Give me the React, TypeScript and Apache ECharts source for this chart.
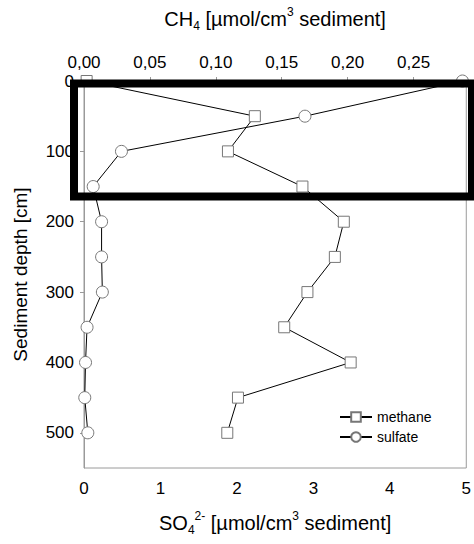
import React, { useEffect, useRef } from "react";
import * as echarts from "echarts";

// Sediment depth [cm]
const depths = [0, 50, 100, 150, 200, 250, 300, 350, 400, 450, 500];
// CH4 [µmol/cm3 sediment] (top axis)
const methane = [0.002, 0.1296, 0.1092, 0.1657, 0.1971, 0.1903, 0.1695, 0.1519, 0.2023, 0.1168, 0.1087];
// SO4 2- [µmol/cm3 sediment] (bottom axis)
const sulfate = [4.95, 2.89, 0.49, 0.12, 0.23, 0.23, 0.24, 0.04, 0.02, 0.01, 0.05];

const seriesNames = ["methane", "sulfate"];

const FONT = "'Liberation Sans', Arial, sans-serif";
const AXIS_GRAY = "#9a9a9a";

const titleRich = {
  t: { fontSize: 20, lineHeight: 26, verticalAlign: "middle", fontFamily: FONT, color: "#000" },
  sub: { fontSize: 12, verticalAlign: "bottom", fontFamily: FONT, color: "#000" },
  sup: { fontSize: 12, verticalAlign: "top", fontFamily: FONT, color: "#000" },
};

export default function App() {
  const ref = useRef<HTMLDivElement>(null);

  useEffect(() => {
    if (!ref.current) return;
    const chart = echarts.init(ref.current, undefined, { renderer: "svg" });

    const axisCommon = {
      type: "value" as const,
      axisLine: { show: true, lineStyle: { color: AXIS_GRAY, width: 1 } },
      axisTick: { show: true, inside: false, length: 4, lineStyle: { color: AXIS_GRAY } },
      splitLine: { show: false },
      axisLabel: { color: "#000", fontSize: 17, fontFamily: FONT },
    };

    chart.setOption({
      animation: false,
      backgroundColor: "#fff",
      textStyle: { fontFamily: FONT },
      grid: {
        left: 84,
        right: 5,
        top: 81,
        bottom: 76,
        show: true,
        borderColor: AXIS_GRAY,
        borderWidth: 1,
        backgroundColor: "transparent",
      },
      legend: {
        data: seriesNames,
        orient: "vertical",
        left: 339,
        top: 410,
        padding: 0,
        itemWidth: 32,
        itemHeight: 12,
        itemGap: 6,
        textStyle: { fontSize: 14, color: "#000", fontFamily: FONT },
      },
      xAxis: [
        {
          ...axisCommon,
          position: "bottom",
          min: 0,
          max: 5,
          interval: 1,
          axisLabel: { ...axisCommon.axisLabel, margin: 12 },
          name: "{t|SO}{sub|4}{sup|2-}{t| [µmol/cm}{sup|3}{t| sediment]}",
          nameLocation: "middle",
          nameGap: 42,
          nameTextStyle: { rich: titleRich },
        },
        {
          ...axisCommon,
          position: "top",
          min: 0,
          max: 0.29,
          interval: 0.05,
          axisLabel: {
            ...axisCommon.axisLabel,
            margin: 10,
            showMaxLabel: false,
            formatter: (v: number) => v.toFixed(2).replace(".", ","),
          },
          name: "{t|CH}{sub|4}{t| [µmol/cm}{sup|3}{t| sediment]}",
          nameLocation: "middle",
          nameGap: 49,
          nameTextStyle: { rich: titleRich },
        },
      ],
      yAxis: {
        ...axisCommon,
        inverse: true,
        min: 0,
        max: 550,
        interval: 100,
        axisLabel: { ...axisCommon.axisLabel, margin: 10, showMaxLabel: false },
        name: "Sediment depth [cm]",
        nameLocation: "middle",
        nameRotate: 90,
        nameGap: 54,
        nameTextStyle: { fontSize: 19, color: "#000", fontFamily: FONT },
      },
      series: [
        {
          name: seriesNames[0],
          type: "line",
          xAxisIndex: 1,
          data: depths.map((d, i) => [methane[i], d]),
          symbol: "rect",
          symbolSize: 11,
          lineStyle: { color: "#000", width: 1 },
          itemStyle: { color: "#fff", borderColor: "#777", borderWidth: 1 },
          clip: false,
          z: 3,
        },
        {
          name: seriesNames[1],
          type: "line",
          xAxisIndex: 0,
          data: depths.map((d, i) => [sulfate[i], d]),
          symbol: "circle",
          symbolSize: 12,
          lineStyle: { color: "#000", width: 1 },
          itemStyle: { color: "#fff", borderColor: "#777", borderWidth: 1 },
          clip: false,
          z: 3,
        },
      ],
      graphic: [
        {
          type: "rect",
          z: 100,
          shape: { x: 74, y: 83.5, width: 398, height: 113 },
          style: { fill: "none", stroke: "#000", lineWidth: 8 },
        },
      ],
    });

    return () => chart.dispose();
  }, []);

  return (
    <div
      ref={ref}
      style={{ position: "absolute", left: 0, top: 0, width: 474, height: 544 }}
    />
  );
}
